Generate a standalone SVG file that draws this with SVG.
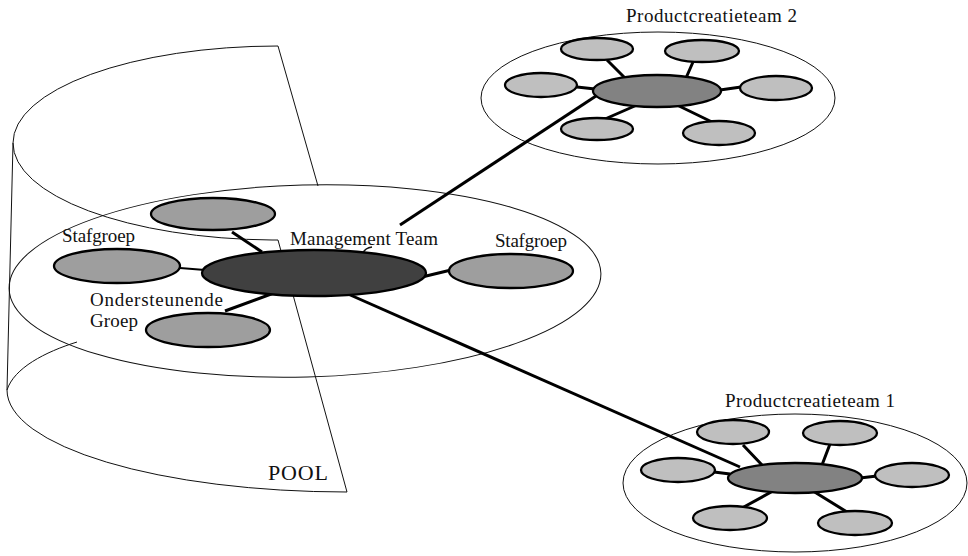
<svg xmlns="http://www.w3.org/2000/svg" width="968" height="556" viewBox="0 0 968 556">
  <style>
    .thin{fill:none;stroke:#111;stroke-width:1}
    .link{fill:none;stroke:#000;stroke-width:3}
    .link2{fill:none;stroke:#000;stroke-width:2.2}
    .node ellipse{stroke:#000;stroke-width:2.3}
    .sat ellipse{fill:#bfbfbf}
    .mid ellipse{fill:#9e9e9e}
    .hub ellipse{fill:#828282}
    .mt ellipse{fill:#404040}
    text{font-family:"Liberation Serif","Times New Roman",serif;font-size:19px;fill:#111}
  </style>
  <rect width="968" height="556" fill="#fff"/>

  <!-- POOL: cut-open cylinder with the pool level plane -->
  <g id="pool" class="thin">
    <path d="M278,46 A265,97 0 0 0 13,143 A265,97 0 0 0 272,240 L278,240 L347,492"/>
    <path d="M278,46 L318,186"/>
    <path d="M13,143 L7,390"/>
    <path d="M77,342 C45,352 14,368 7,390 A340,102 0 0 0 347,492"/>
    <ellipse cx="305" cy="281" rx="296" ry="96" transform="rotate(-1.5 305 281)"/>
  </g>

  <!-- team planes -->
  <g id="plane-pct2" class="thin"><ellipse cx="658" cy="98" rx="177" ry="66"/></g>
  <g id="plane-pct1" class="thin"><ellipse cx="795" cy="483" rx="172" ry="69"/></g>

  <!-- connectors -->
  <g id="connectors">
    <path class="link" d="M232,232 L262,252"/>
    <path class="link2" d="M180,268 L205,270"/>
    <path class="link" d="M225,311 L282,290"/>
    <path class="link" d="M422,277 L451,270"/>
    <path class="link" d="M400,225 L596,96"/>
    <path class="link" d="M348,294 L740,467"/>
    <path class="link" d="M607,60 L627,80 M693,62 L686,78 M577,87 L595,89 M720,90 L741,87 M605,119 L637,105 M677,105 L712,122"/>
    <path class="link" d="M743,445 L762,465 M830,444 L822,465 M714,472 L730,474 M860,478 L877,476 M742,508 L773,491 M813,491 L847,512"/>
    <path class="thin" style="stroke-width:1.5" d="M363,253 Q365,248 372,247"/>
  </g>

  <!-- pool nodes -->
  <g id="management-team" class="node mt"><ellipse cx="314" cy="273" rx="112" ry="23"/></g>
  <g id="pool-top" class="node mid"><ellipse cx="213" cy="214" rx="62" ry="16"/></g>
  <g id="stafgroep-left" class="node mid"><ellipse cx="117" cy="266" rx="63" ry="17"/></g>
  <g id="ondersteunende-groep" class="node mid"><ellipse cx="208" cy="330" rx="62" ry="17"/></g>
  <g id="stafgroep-right" class="node mid"><ellipse cx="511" cy="271" rx="62" ry="17"/></g>

  <!-- Productcreatieteam 2 -->
  <g id="pct2-hub" class="node hub"><ellipse cx="657" cy="91" rx="64" ry="16"/></g>
  <g id="pct2-a" class="node sat"><ellipse cx="597" cy="49" rx="36" ry="11"/></g>
  <g id="pct2-b" class="node sat"><ellipse cx="702" cy="51" rx="37" ry="11"/></g>
  <g id="pct2-c" class="node sat"><ellipse cx="541" cy="85" rx="36" ry="12"/></g>
  <g id="pct2-d" class="node sat"><ellipse cx="776" cy="88" rx="36" ry="12"/></g>
  <g id="pct2-e" class="node sat"><ellipse cx="597" cy="129" rx="36" ry="11"/></g>
  <g id="pct2-f" class="node sat"><ellipse cx="719" cy="133" rx="36" ry="12"/></g>

  <!-- Productcreatieteam 1 -->
  <g id="pct1-hub" class="node hub"><ellipse cx="795" cy="478" rx="67" ry="15"/></g>
  <g id="pct1-a" class="node sat"><ellipse cx="733" cy="432" rx="36" ry="12"/></g>
  <g id="pct1-b" class="node sat"><ellipse cx="840" cy="433" rx="37" ry="12"/></g>
  <g id="pct1-c" class="node sat"><ellipse cx="678" cy="470" rx="37" ry="12"/></g>
  <g id="pct1-d" class="node sat"><ellipse cx="912" cy="475" rx="37" ry="12"/></g>
  <g id="pct1-e" class="node sat"><ellipse cx="730" cy="518" rx="37" ry="12"/></g>
  <g id="pct1-f" class="node sat"><ellipse cx="855" cy="523" rx="37" ry="12"/></g>

  <!-- labels -->
  <g id="labels">
    <text x="62" y="242" textLength="73">Stafgroep</text>
    <text x="290" y="245" textLength="148">Management Team</text>
    <text x="495" y="247" textLength="72">Stafgroep</text>
    <text x="90" y="306" textLength="133">Ondersteunende</text>
    <text x="90" y="327" textLength="48">Groep</text>
    <text x="268" y="480" style="font-size:22px" textLength="60">POOL</text>
    <text x="626" y="22" textLength="171">Productcreatieteam 2</text>
    <text x="725" y="407" textLength="170">Productcreatieteam 1</text>
  </g>
</svg>
